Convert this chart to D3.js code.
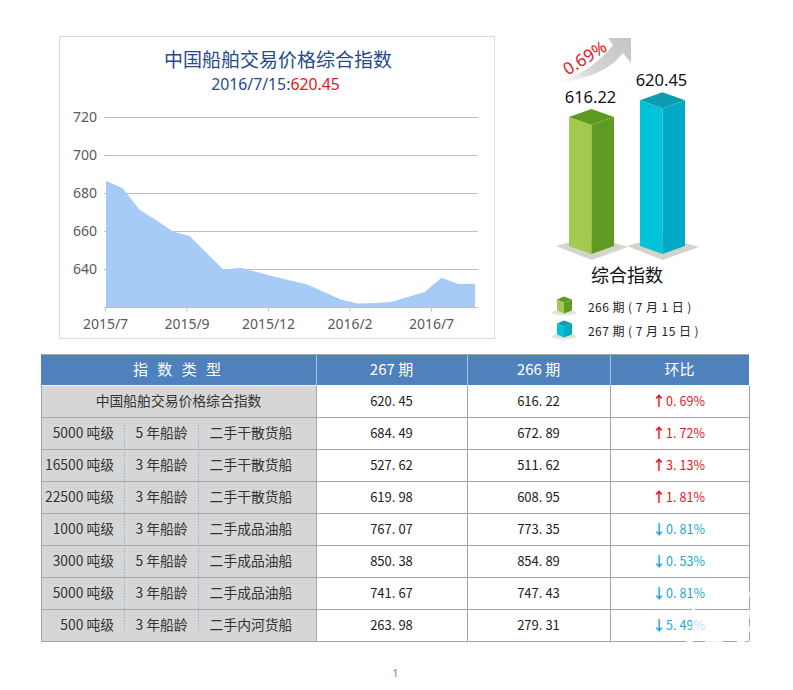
<!DOCTYPE html>
<html lang="zh">
<head>
  <meta charset="UTF-8">
  <title>中国船舶交易价格综合指数</title>
  <script src="https://d3js.org/d3.v7.min.js"></script>
  <style>
    body { margin: 0; background: #fff; }
    svg { display: block; }
    text { font-family: "Noto Sans CJK SC", "Noto Sans", sans-serif; }
    .axis-label { font-family: "Noto Sans", "Open Sans", sans-serif; font-size: 14px; fill: #595959; }
    .num { font-size: 13px; fill: #222; }
    .cell { font-size: 13.8px; fill: #333; }
  </style>
</head>
<body>
<svg id="chart" width="793" height="690"></svg>
<script>
  // area chart
  const indexValues = [686.5, 682.5, 671.2, 665.6, 659.8, 657.2, 648.4, 639.6, 640.7, 638.4, 636.1, 634,
    631.8, 627.9, 623.9, 621.9, 622.1, 622.6, 625.3, 627.9, 635.4, 632.1, 632.3];
  const yTicks = [640, 660, 680, 700, 720];
  const xTickLabels = ["2015/7", "2015/9", "2015/12", "2016/2", "2016/7"];

  // 3d bars
  const barPeriods = ["266 期 ( 7 月 1 日 )", "267 期 ( 7 月 15 日 )"];
  const barValues = [616.22, 620.45];

  // table
  const rowTon = ["5000 吨级", "16500 吨级", "22500 吨级", "1000 吨级", "3000 吨级", "5000 吨级", "500 吨级"];
  const rowAge = ["5 年船龄", "3 年船龄", "3 年船龄", "3 年船龄", "5 年船龄", "3 年船龄", "3 年船龄"];
  const rowType = ["二手干散货船", "二手干散货船", "二手干散货船", "二手成品油船", "二手成品油船", "二手成品油船", "二手内河货船"];
  const rowNames = ["中国船舶交易价格综合指数"];
  const col267 = [620.45, 684.49, 527.62, 619.98, 767.07, 850.38, 741.67, 263.98];
  const col266 = [616.22, 672.89, 511.62, 608.95, 773.35, 854.89, 747.43, 279.31];
  const colChange = [0.69, 1.72, 3.13, 1.81, -0.81, -0.53, -0.81, -5.49];

  const svg = d3.select("#chart");

  // ---- left chart ----
  svg.append("rect").attr("x", 59.5).attr("y", 36.5).attr("width", 435).attr("height", 302)
    .attr("fill", "#fff").attr("stroke", "#d9d9d9");

  svg.append("text").attr("x", 278).attr("y", 67).attr("text-anchor", "middle")
    .attr("font-size", 19).attr("fill", "#264a8c").text("中国船舶交易价格综合指数");
  const sub = svg.append("text").attr("x", 275.5).attr("y", 90).attr("text-anchor", "middle")
    .attr("font-size", 15.8).attr("fill", "#264a8c")
    .style("font-family", '"Noto Sans", sans-serif');
  sub.append("tspan").text("2016/7/15:");
  sub.append("tspan").attr("fill", "#e8141c").text("620.45");

  const x = d3.scaleLinear().domain([0, indexValues.length - 1]).range([106, 475]);
  const y = d3.scaleLinear().domain([620, 720]).range([307, 117]);
  const xTick = d3.scalePoint().domain(xTickLabels).range([105, 431]);

  svg.append("g").selectAll("line").data(yTicks).join("line")
    .attr("x1", 104).attr("x2", 478)
    .attr("y1", d => y(d) + 0.5).attr("y2", d => y(d) + 0.5)
    .attr("stroke", "#bfbfbf");

  const area = d3.area().x((d, i) => x(i)).y0(y(620)).y1(d => y(d));
  svg.append("path").datum(indexValues).attr("d", area).attr("fill", "#a6cbf6");

  svg.append("g").selectAll("text").data(yTicks).join("text")
    .attr("class", "axis-label")
    .attr("x", 97).attr("y", d => y(d) + 5).attr("text-anchor", "end").text(d => d);

  const xAxis = svg.append("g").attr("transform", "translate(0,307.5)")
    .call(d3.axisBottom(xTick).tickSize(4).tickPadding(8));
  xAxis.select(".domain").remove();
  xAxis.append("line").attr("x1", 104).attr("x2", 478).attr("stroke", "#bfbfbf");
  xAxis.selectAll(".tick line").attr("stroke", "#bfbfbf");
  xAxis.selectAll(".tick text").attr("class", "axis-label").attr("fill", null);

  // ---- right chart ----
  const defs = svg.append("defs");
  const grad = defs.append("linearGradient").attr("id", "arrowFill")
    .attr("x1", "0").attr("y1", "0.8").attr("x2", "1").attr("y2", "0.2");
  grad.append("stop").attr("offset", "0").attr("stop-color", "#f6f6f6");
  grad.append("stop").attr("offset", "0.4").attr("stop-color", "#d6d6d6");
  grad.append("stop").attr("offset", "1").attr("stop-color", "#c6c6c6");

  // curved arrow behind the 0.69% label
  svg.append("path").attr("fill", "url(#arrowFill)")
    .attr("d", "M557,82 C580,76 600,62 613,45 L608,38 L631,38 L631,63 L623,53 C610,70 585,81 557,82 Z");
  svg.append("text").attr("transform", "translate(588,63) rotate(-32)")
    .attr("text-anchor", "middle").attr("font-size", 17).attr("fill", "#e8141c")
    .style("font-family", '"Noto Sans", sans-serif').text("0.69%");

  const barY = d3.scaleLinear().domain([583.6, 620.45]).range([254, 108.3]);
  const barX = d3.scaleBand().domain(barValues).range([569, 685]).paddingInner(0.366);
  const barColors = [
    { light: "#a3c950", dark: "#5f9b22", top: "#5c9a20" },
    { light: "#00c3d8", dark: "#00a9c4", top: "#0d9cb0" }
  ];
  const depth = 8;
  const bars = svg.append("g").selectAll("g").data(barValues).join("g");
  bars.each(function (v, i) {
    const g = d3.select(this);
    const l = barX(v), w = barX.bandwidth(), m = l + w / 2, r = l + w;
    const top = barY(v), bot = barY.range()[0];
    const pts = a => a.map(p => p.join(",")).join(" ");
    g.append("polygon").attr("fill", "#d4d4cb")
      .attr("points", pts([[l - 13, bot - depth], [m, bot - 18], [r + 14, bot - depth + 1], [m, bot + 6]]));
    g.append("polygon").attr("fill", barColors[i].light)
      .attr("points", pts([[l, top - depth], [m, top], [m, bot], [l, bot - depth]]));
    g.append("polygon").attr("fill", barColors[i].dark)
      .attr("points", pts([[m, top], [r, top - depth], [r, bot - depth], [m, bot]]));
    g.append("polygon").attr("fill", barColors[i].top)
      .attr("points", pts([[l, top - depth], [m, top - depth * 2], [r, top - depth], [m, top]]));
    g.append("text").attr("x", m - 1).attr("y", top - depth * 2 - 6).attr("text-anchor", "middle")
      .attr("font-size", 16.5).attr("fill", "#111").style("font-family", '"Noto Sans", sans-serif').text(v);
  });

  svg.append("text").attr("x", 627).attr("y", 282).attr("text-anchor", "middle")
    .attr("font-size", 18).attr("fill", "#111").text("综合指数");

  const legendY = d3.scalePoint().domain(barPeriods).range([308, 332]);
  const legend = svg.append("g").selectAll("g").data(barPeriods).join("g")
    .attr("transform", d => `translate(0,${legendY(d)})`);
  const cube = legend.append("g").attr("transform", "translate(1,-1.5)");
  cube.append("ellipse").attr("cx", 563).attr("cy", 6).attr("rx", 12).attr("ry", 3).attr("fill", "#e4e4dc");
  cube.append("polygon").attr("points", "556,-7 563,-4 563,7 556,4").attr("fill", (d, i) => barColors[i].light);
  cube.append("polygon").attr("points", "563,-4 571,-7 571,4 563,7").attr("fill", (d, i) => barColors[i].dark);
  cube.append("polygon").attr("points", "556,-7 563,-10 571,-7 563,-4").attr("fill", (d, i) => barColors[i].top);
  legend.append("text").attr("x", 588).attr("y", 4).attr("font-size", 12).attr("letter-spacing", 0.45)
    .attr("fill", "#222").text(d => d);

  // ---- table ----
  const colX = [41, 316, 467, 610, 749];
  const rowsY = d3.scaleBand().domain(d3.range(col267.length)).range([386, 642]);
  const cy = i => rowsY(i) + rowsY.bandwidth() / 2 + 3.5;

  svg.append("rect").attr("x", colX[0]).attr("y", 354).attr("width", colX[4] - colX[0]).attr("height", 31)
    .attr("fill", "#4f81bd");
  svg.append("rect").attr("x", colX[0]).attr("y", 386).attr("width", colX[1] - colX[0]).attr("height", 255)
    .attr("fill", "#d6d6d6");

  const headers = ["指 数 类 型", "267 期", "266 期", "环比"];
  svg.append("g").selectAll("text").data(headers).join("text")
    .attr("x", (d, i) => (colX[i] + colX[i + 1]) / 2).attr("y", 375)
    .attr("text-anchor", "middle").attr("font-size", 15).attr("fill", "#fff")
    .attr("letter-spacing", (d, i) => i === 0 ? 3 : 0).text(d => d);

  const grid = svg.append("g").attr("stroke", "#a6a6a6").attr("fill", "none");
  rowsY.domain().forEach(i => {
    const ly = Math.round(rowsY(i) + rowsY.bandwidth()) - 0.5;
    grid.append("line").attr("x1", colX[0]).attr("x2", colX[4]).attr("y1", ly).attr("y2", ly);
  });
  colX.forEach(c => grid.append("line").attr("x1", c + 0.5).attr("x2", c + 0.5).attr("y1", 386).attr("y2", 641));
  colX.slice(1, 4).forEach(c => grid.append("line").attr("x1", c + 0.5).attr("x2", c + 0.5).attr("y1", 354).attr("y2", 386).attr("stroke", "#a9c0dc"));
  grid.append("line").attr("x1", colX[0]).attr("x2", colX[1]).attr("y1", 385.5).attr("y2", 385.5).attr("stroke", "#eef2f7");
  grid.append("line").attr("x1", colX[0]).attr("x2", colX[4]).attr("y1", 354.5).attr("y2", 354.5);

  [124, 198].forEach(dx => svg.append("line").attr("x1", dx + 0.5).attr("x2", dx + 0.5).attr("y1", 425).attr("y2", 630)
    .attr("stroke", "#8fb0cf").attr("stroke-dasharray", "1.5 1.5"));

  svg.append("text").attr("class", "cell").attr("x", 178.5).attr("y", cy(0)).attr("text-anchor", "middle").text(rowNames[0]);
  const cellRows = svg.append("g").selectAll("g").data(rowTon).join("g");
  cellRows.append("text").attr("class", "cell").attr("x", 114).attr("y", (d, i) => cy(i + 1)).attr("text-anchor", "end").text(d => d);
  cellRows.append("text").attr("class", "cell").attr("x", 161.5).attr("y", (d, i) => cy(i + 1)).attr("text-anchor", "middle").text((d, i) => rowAge[i]);
  cellRows.append("text").attr("class", "cell").attr("x", 251).attr("y", (d, i) => cy(i + 1)).attr("text-anchor", "middle").text((d, i) => rowType[i]);

  // decimals sit a little apart from the point, like the table's wide dot
  function spacedNumber(sel, v) {
    const parts = d3.format(".2f")(v).split(".");
    sel.append("tspan").text(parts[0] + ".");
    sel.append("tspan").attr("dx", 3).text(parts[1]);
  }

  [col267, col266].forEach((col, c) => {
    svg.append("g").selectAll("text").data(col).join("text").attr("class", "num")
      .attr("x", (colX[c + 1] + colX[c + 2]) / 2).attr("y", (d, i) => cy(i)).attr("text-anchor", "middle")
      .each(function (d) { spacedNumber(d3.select(this), d); });
  });

  svg.append("g").selectAll("text").data(colChange).join("text")
    .attr("x", (colX[3] + colX[4]) / 2).attr("y", (d, i) => cy(i)).attr("text-anchor", "middle")
    .attr("font-size", 12.5)
    .attr("fill", d => d > 0 ? "#e8141c" : "#22a5dc")
    .each(function (d) {
      const t = d3.select(this);
      t.append("tspan").attr("font-weight", 700).attr("font-size", 14).attr("dx", -1).text(d > 0 ? "↑" : "↓");
      spacedNumber(t, Math.abs(d));
      t.append("tspan").text("%");
    });

  // white scratches over the table's lower right corner
  const scratches = [[692, 620, 13, 10, 0.65], [686, 640, 7, 3, 1], [705, 640, 18, 3, 0.8], [737, 640, 8, 3, 0.9],
    [748, 610, 3, 8, 0.8], [748, 626, 3, 6, 0.8], [692, 608, 3, 3, 1], [748, 592, 3, 5, 0.7]];
  svg.append("g").selectAll("rect").data(scratches).join("rect")
    .attr("x", d => d[0]).attr("y", d => d[1]).attr("width", d => d[2]).attr("height", d => d[3])
    .attr("fill", "#fff").attr("opacity", d => d[4]);

  // page number
  svg.append("text").attr("x", 395.5).attr("y", 677).attr("text-anchor", "middle")
    .attr("font-size", 11).attr("fill", "#808080").style("font-family", '"Noto Sans", sans-serif').text("1");
</script>
</body>
</html>
